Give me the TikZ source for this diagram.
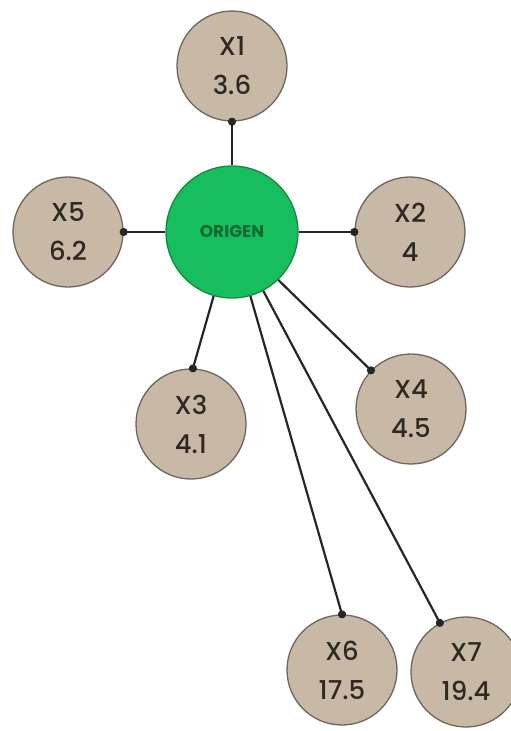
\documentclass[tikz,border=0pt]{standalone}
\usepackage{fontspec}
\setmainfont{Poppins}[UprightFont=* Medium, BoldFont=* Bold]
\usetikzlibrary{arrows.meta}
\definecolor{leaf}{HTML}{C8B9A6}
\definecolor{leafedge}{HTML}{6E665C}
\definecolor{rootfill}{HTML}{16BE5E}
\definecolor{rootedge}{HTML}{128A45}
\definecolor{roottext}{HTML}{0B6A30}
\definecolor{inkgray}{HTML}{2E2922}
\tikzset{
  leafnode/.style={circle, draw=leafedge, line width=1.3pt, fill=leaf,
    minimum size=110pt, inner sep=0pt, align=center, text=inkgray,
    font=\fontsize{26}{39}\selectfont},
  rootnode/.style={circle, draw=rootedge, line width=1.3pt, fill=rootfill,
    minimum size=132pt, inner sep=0pt, text=roottext,
    font=\fontsize{17}{19}\selectfont\bfseries},
  link/.style={draw=black!85, line width=2.2pt,
    -{Circle[length=8pt,width=8pt]}, shorten >=-4pt},
}
\begin{document}
\begin{tikzpicture}[x=1pt,y=-1pt]
\useasboundingbox (0,0) rectangle (511,731);
% hub
\node[rootnode] (O) at (232,232) {ORIGEN};
% leaves
\node[leafnode] (X1) at (232,66)  {X1\\3.6};
\node[leafnode] (X2) at (410,232) {X2\\4};
\node[leafnode] (X3) at (191,424) {X3\\4.1};
\node[leafnode] (X4) at (411,409) {X4\\4.5};
\node[leafnode] (X5) at (68,232)  {X5\\6.2};
\node[leafnode] (X6) at (342,670) {X6\\17.5};
\node[leafnode] (X7) at (466,672) {X7\\19.4};
% spokes
\draw[link] (O.90)   -- (X1.-90);
\draw[link] (O.0)    -- (X2.180);
\draw[link] (O.180)  -- (X5.0);
\draw[link] (O.-106) -- (X3.88);
\draw[link] (O.-46)  -- (X4.136);
\draw[link] (O.-74)  -- (X6.90);
\draw[link] (O.-62)  -- (X7.118);
\end{tikzpicture}
\end{document}
